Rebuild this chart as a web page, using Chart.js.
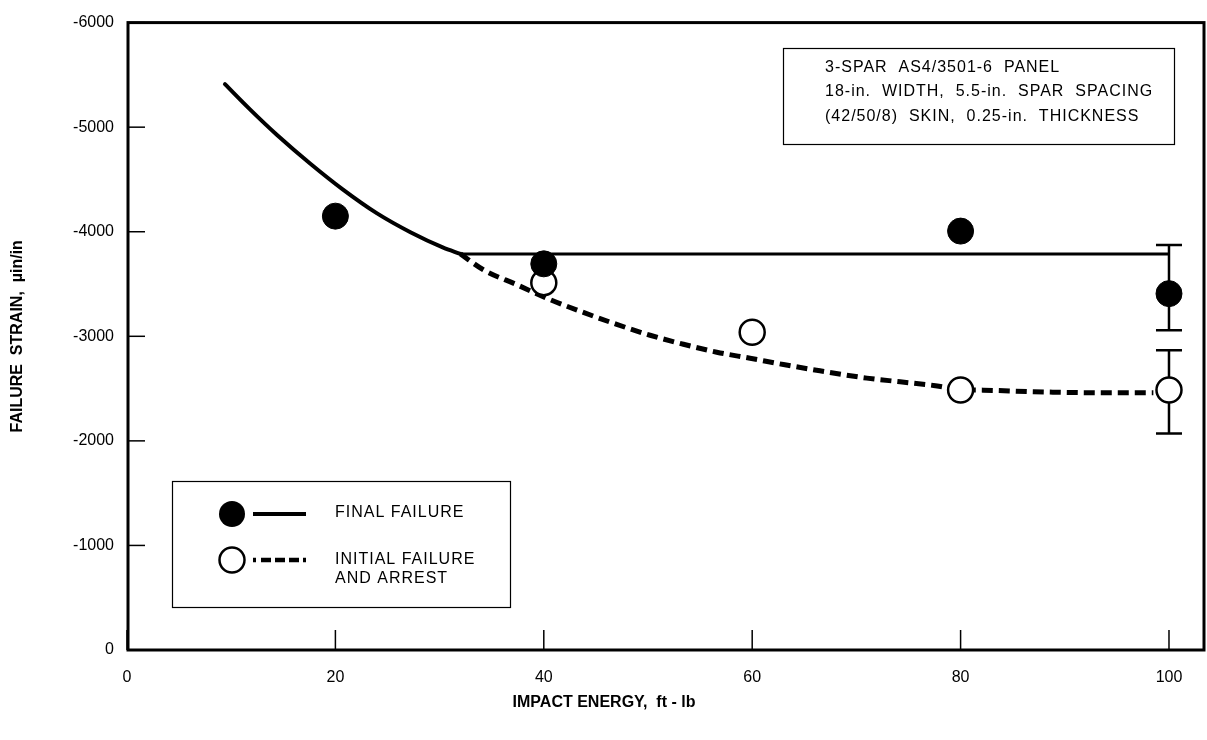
<!DOCTYPE html>
<html><head><meta charset="utf-8">
<script src="https://cdn.jsdelivr.net/npm/chart.js@4.4.1/dist/chart.umd.min.js"></script>
<style>html,body{margin:0;padding:0;background:#fff}canvas{display:block}</style>
</head><body>
<canvas id="c" width="1207" height="740"></canvas>
<script>
const xTicks = [0, 20, 40, 60, 80, 100];
const yTicks = [0, -1000, -2000, -3000, -4000, -5000, -6000];
const finalX = [20, 40, 80, 100];
const finalY = [-4149, -3693, -4006, -3408];
const initX = [40, 60, 80, 100];
const initY = [-3513, -3038, -2487, -2487];
const finalCurveX = [9.4, 11.8, 14.4, 17.6, 20.7, 24.0, 27.2, 30.3, 32.0];
const finalCurveY = [-5411, -5170, -4925, -4650, -4405, -4175, -3995, -3850, -3788];
const plateauX = [32, 100];
const plateauY = [-3788, -3788];
const initCurveX = [32, 34.2, 37.4, 40.6, 43.8, 47, 50.2, 53.4, 56.6, 59.8, 63, 66.5, 71, 74.2, 77.4, 80, 82.2, 87, 93.4, 98.5];
const initCurveY = [-3788, -3636, -3494, -3351, -3228, -3114, -3010, -2924, -2848, -2790, -2730, -2670, -2600, -2565, -2530, -2490, -2485, -2470, -2460, -2460];
const errX = [100];
const finalErrHigh = [-3873];
const finalErrLow = [-3057];
const initErrHigh = [-2867];
const initErrLow = [-2070];
const xTitle = 'IMPACT ENERGY,  ft - lb';
const yTitle = 'FAILURE  STRAIN,  µin/in';
const legendLabels = [['FINAL FAILURE'], ['INITIAL FAILURE', 'AND ARREST']];
const noteLines = ['3-SPAR  AS4/3501-6  PANEL', '18-in.  WIDTH,  5.5-in.  SPAR  SPACING', '(42/50/8)  SKIN,  0.25-in.  THICKNESS'];

const FAMILY = "'Liberation Sans', Arial, Helvetica, sans-serif";
const pts = (xs, ys) => xs.map((x, i) => ({x: x, y: ys[i]}));

const decor = {
  id: 'decor',
  afterDraw(chart) {
    const {ctx, chartArea: a, scales: {x, y}} = chart;
    ctx.save();
    ctx.strokeStyle = '#000';
    ctx.fillStyle = '#000';
    ctx.lineWidth = 1.5;
    xTicks.forEach(v => {
      const px = x.getPixelForValue(v);
      ctx.beginPath(); ctx.moveTo(px, a.bottom); ctx.lineTo(px, a.bottom - 20); ctx.stroke();
    });
    yTicks.forEach(v => {
      const py = y.getPixelForValue(v);
      ctx.beginPath(); ctx.moveTo(a.left, py); ctx.lineTo(a.left + 18, py); ctx.stroke();
    });
    ctx.lineWidth = 3;
    ctx.strokeRect(a.left + 1, a.top, a.right - a.left - 1, a.bottom - a.top);

    // x axis title
    ctx.font = 'bold 16px ' + FAMILY;
    ctx.textAlign = 'center';
    ctx.textBaseline = 'middle';
    ctx.fillText(xTitle, 604, 703);

    // annotation box
    ctx.lineWidth = 1.2;
    ctx.strokeRect(783.5, 48.5, 391, 96);
    ctx.font = '16px ' + FAMILY;
    ctx.textAlign = 'left';
    ctx.letterSpacing = '1px';
    const ny = [68, 92, 117];
    noteLines.forEach((t, i) => ctx.fillText(t, 825, ny[i]));

    // legend box
    ctx.letterSpacing = '0px';
    ctx.strokeRect(172.5, 481.5, 338, 126);
    ctx.beginPath(); ctx.arc(232, 514, 13, 0, Math.PI * 2); ctx.fill();
    ctx.lineWidth = 4;
    ctx.beginPath(); ctx.moveTo(253, 514); ctx.lineTo(306, 514); ctx.stroke();
    ctx.fillStyle = '#fff';
    ctx.lineWidth = 2.5;
    ctx.beginPath(); ctx.arc(232, 560, 12.5, 0, Math.PI * 2); ctx.fill(); ctx.stroke();
    ctx.fillStyle = '#000';
    ctx.lineWidth = 4.5;
    ctx.beginPath(); ctx.moveTo(253, 560); ctx.lineTo(256, 560); ctx.stroke();
    ctx.setLineDash([10, 4]);
    ctx.beginPath(); ctx.moveTo(261, 560); ctx.lineTo(306, 560); ctx.stroke();
    ctx.setLineDash([]);
    ctx.font = '16px ' + FAMILY;
    ctx.letterSpacing = '1px';
    ctx.fillText(legendLabels[0][0], 335, 513);
    ctx.fillText(legendLabels[1][0], 335, 560);
    ctx.fillText(legendLabels[1][1], 335, 579);
    ctx.restore();
  }
};

const errSet = (hi, lo) => ({
  data: pts(errX.concat(errX), hi.concat(lo)),
  showLine: true, borderColor: '#000', borderWidth: 2.5,
  pointStyle: 'line', pointRadius: 13, pointHoverRadius: 13,
  pointBorderColor: '#000', pointBorderWidth: 2.5, order: 3
});

new Chart(document.getElementById('c'), {
  type: 'scatter',
  data: {
    datasets: [
      {data: pts(finalX, finalY), pointRadius: 13, pointBackgroundColor: '#000', pointBorderColor: '#000', pointBorderWidth: 1, showLine: false, order: 0},
      {data: pts(initX, initY), pointRadius: 12.5, pointBackgroundColor: '#fff', pointBorderColor: '#000', pointBorderWidth: 2.5, showLine: false, order: 1},
      errSet(finalErrHigh, finalErrLow),
      errSet(initErrHigh, initErrLow),
      {data: pts(finalCurveX, finalCurveY), showLine: true, borderColor: '#000', borderWidth: 4, borderCapStyle: 'round', pointRadius: 0, cubicInterpolationMode: 'monotone', order: 5},
      {data: pts(plateauX, plateauY), showLine: true, borderColor: '#000', borderWidth: 3, pointRadius: 0, order: 5},
      {data: pts(initCurveX, initCurveY), showLine: true, borderColor: '#000', borderWidth: 5, borderDash: [11, 6], pointRadius: 0, cubicInterpolationMode: 'monotone', order: 6}
    ]
  },
  options: {
    responsive: false,
    animation: false,
    devicePixelRatio: 1,
    layout: {autoPadding: false, padding: {top: 18, right: 3, left: 0, bottom: 0}},
    plugins: {legend: {display: false}, tooltip: {enabled: false}},
    events: [],
    scales: {
      x: {
        type: 'linear', min: 0, max: 103.36,
        afterBuildTicks: s => { s.ticks = xTicks.map(v => ({value: v})); },
        afterFit: s => { s.height = 90; },
        grid: {display: false, drawTicks: false},
        border: {display: false},
        ticks: {color: '#000', padding: 18, maxRotation: 0, autoSkip: false, font: {family: FAMILY, size: 16}, callback: v => String(v)}
      },
      y: {
        type: 'linear', min: -6000, max: 0, reverse: true,
        afterBuildTicks: s => { s.ticks = yTicks.map(v => ({value: v})); },
        afterFit: s => { s.width = 127; },
        grid: {display: false, drawTicks: false},
        border: {display: false},
        ticks: {color: '#000', padding: 13, autoSkip: false, font: {family: FAMILY, size: 16}, callback: v => String(v)},
        title: {display: true, text: yTitle, color: '#000', font: {family: FAMILY, size: 16, weight: 'bold'}, padding: {top: 8, bottom: 0}}
      }
    }
  },
  plugins: [decor]
});
</script>
</body></html>
